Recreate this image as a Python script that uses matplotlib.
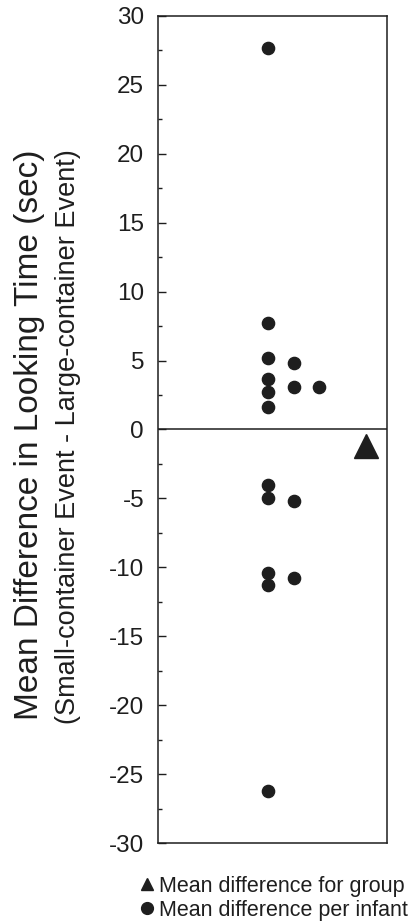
import matplotlib
matplotlib.use("Agg")
import matplotlib.pyplot as plt
from matplotlib.ticker import MultipleLocator
from matplotlib.lines import Line2D

plt.rcParams['font.family'] = ['Liberation Sans', 'DejaVu Sans']

# Per-infant mean differences (sec), grouped by display column
col1_values = [27.7, 7.7, 5.2, 3.7, 2.7, 1.6, -4.0, -5.0, -10.4, -11.3, -26.2]
col2_values = [4.8, 3.1, -5.2, -10.75]
col3_values = [3.1]
group_mean = [-1.2]

col_x = [0.48, 0.594, 0.703]
group_x = [0.908]

yticks = [30, 25, 20, 15, 10, 5, 0, -5, -10, -15, -20, -25, -30]
ytick_labels = [str(v) for v in yticks]

W, H = 413, 922
fig = plt.figure(figsize=(W / 100, H / 100), dpi=100)
ax = fig.add_axes([158 / W, 1 - 843 / H, (387 - 158) / W, (843 - 16) / H])

ink = '#1e1e1e'
for xs, vals in zip(col_x, [col1_values, col2_values, col3_values]):
    ax.plot([xs] * len(vals), vals, 'o', color=ink, markersize=8.8, linestyle='none')
ax.plot(group_x, group_mean, '^', color=ink, markersize=17, linestyle='none')

ax.axhline(0, color=ink, linewidth=1.1)
ax.set_xlim(0, 1)
ax.set_ylim(-30, 30)
ax.set_xticks([])
ax.set_yticks(yticks)
ax.set_yticklabels(ytick_labels)
ax.yaxis.set_minor_locator(MultipleLocator(2.5))
ax.tick_params(axis='y', which='major', direction='in', length=6, width=1.0,
               labelsize=17.5, pad=10, colors=ink)
ax.tick_params(axis='y', which='minor', direction='in', length=3, width=1.0, colors=ink)
for s in ax.spines.values():
    s.set_linewidth(1.1)
    s.set_color(ink)

fig.text(30 / W, 1 - 435 / H, 'Mean Difference in Looking Time (sec)',
         rotation=90, ha='center', va='center', fontsize=24, color=ink)
fig.text(68 / W, 1 - 437 / H, '(Small-container Event - Large-container Event)',
         rotation=90, ha='center', va='center', fontsize=19.5, color=ink)

# Legend
fig.add_artist(Line2D([147 / W], [1 - 884 / H], marker='^', color=ink, markersize=9,
                      linestyle='none', transform=fig.transFigure))
fig.add_artist(Line2D([147 / W], [1 - 908 / H], marker='o', color=ink, markersize=8.5,
                      linestyle='none', transform=fig.transFigure))
fig.text(159 / W, 1 - 892 / H, 'Mean difference for group', ha='left', va='baseline',
         fontsize=15.5, color=ink)
fig.text(159 / W, 1 - 916 / H, 'Mean difference per infant', ha='left', va='baseline',
         fontsize=15.5, color=ink)

fig.savefig('out.png', dpi=100, facecolor='white')
